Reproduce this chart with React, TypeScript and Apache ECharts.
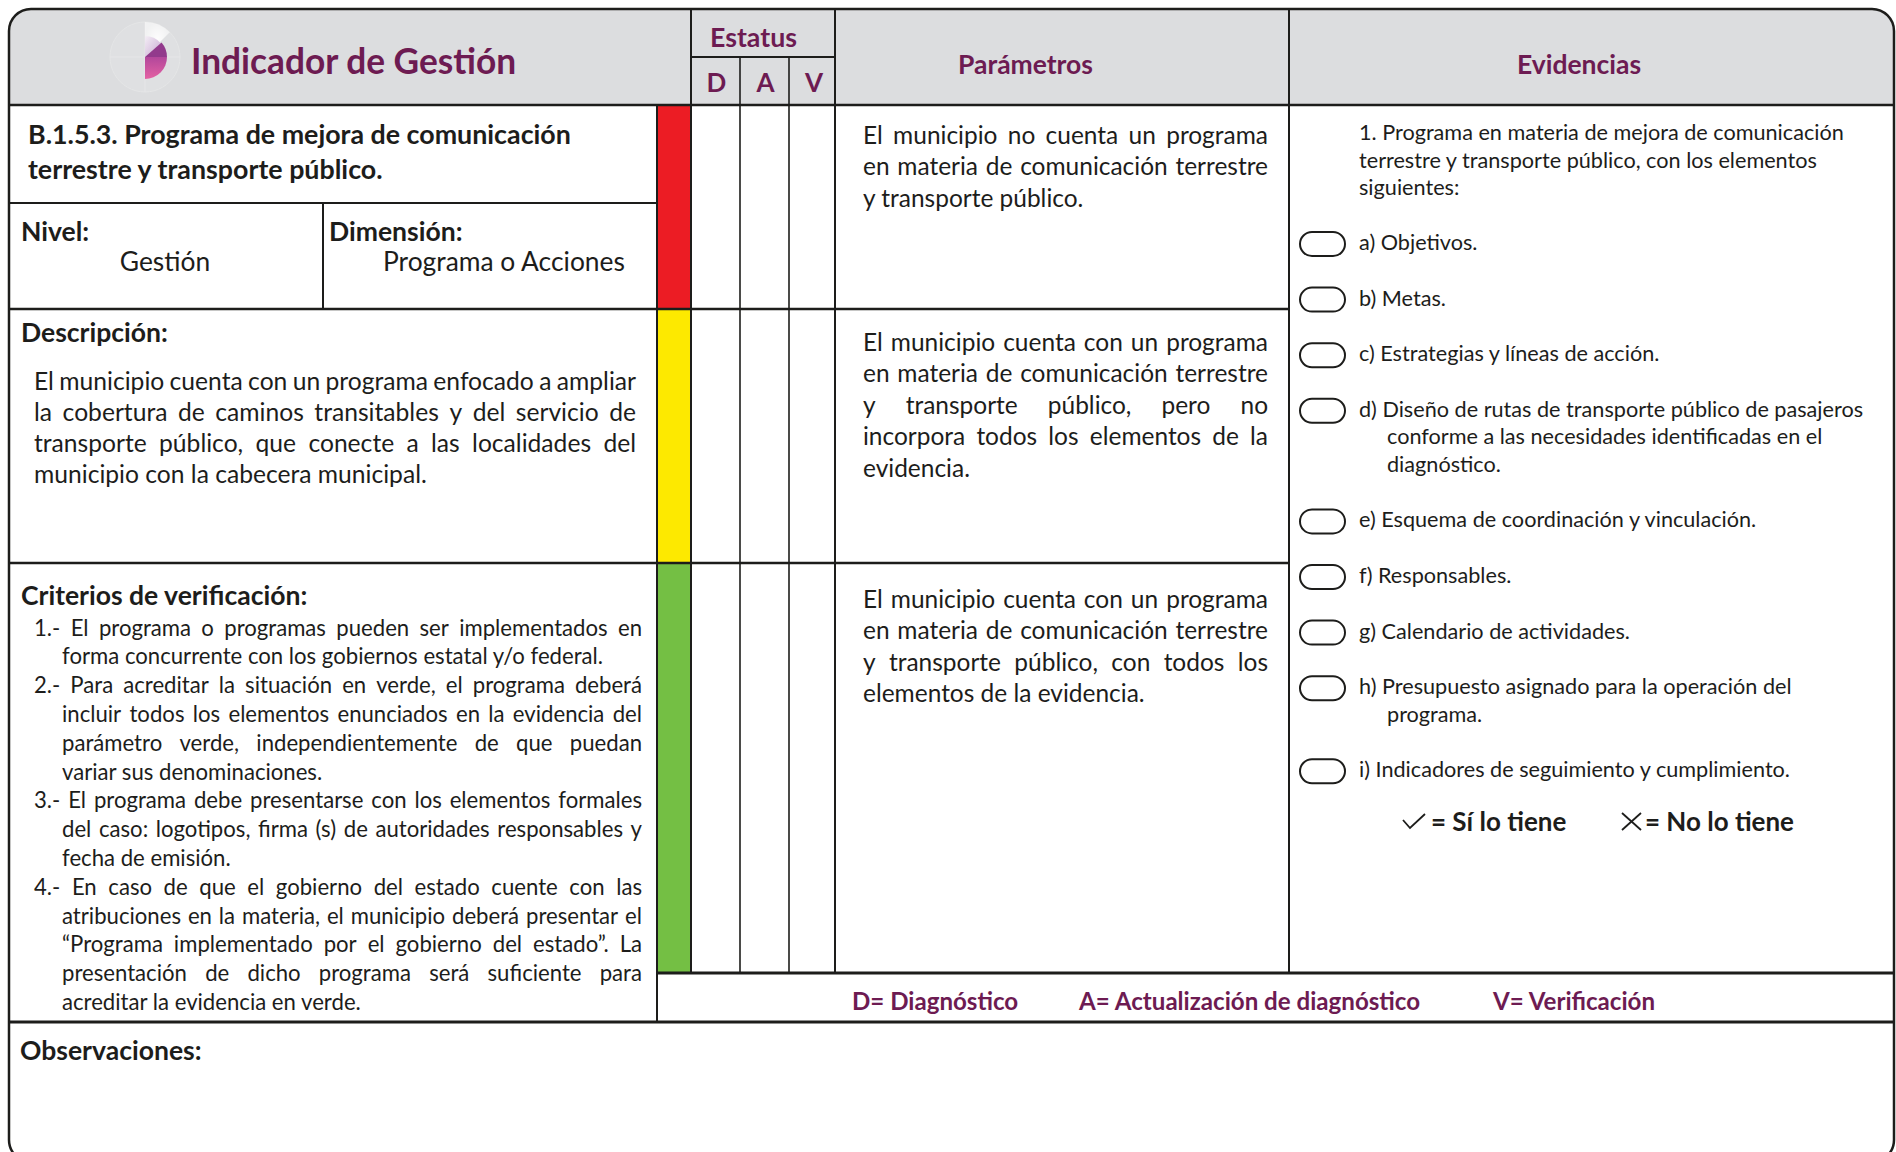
import React, { useEffect, useRef } from "react";
import * as echarts from "echarts";

// ---------- content ----------
const headerTitle = "Indicador de Gestión";
const statusHeader = "Estatus";
const statusCols = ["D", "A", "V"];
const paramHeader = "Parámetros";
const evidHeader = "Evidencias";
const indicatorTitle = [
  "B.1.5.3. Programa de mejora de comunicación",
  "terrestre y transporte público.",
];
const nivelLabel = "Nivel:";
const nivelValue = "Gestión";
const dimLabel = "Dimensión:";
const dimValue = "Programa o Acciones";
const descLabel = "Descripción:";
const descLines = [
  "El municipio cuenta con un programa enfocado a ampliar",
  "la cobertura de caminos transitables y del servicio de",
  "transporte público, que conecte a las localidades del",
  "municipio con la cabecera municipal.",
];
const critLabel = "Criterios de verificación:";
const critLines = [
  "1.- El programa o programas pueden ser implementados en",
  "forma concurrente con los gobiernos estatal y/o federal.",
  "2.- Para acreditar la situación en verde, el programa deberá",
  "incluir todos los elementos enunciados en la evidencia del",
  "parámetro verde, independientemente de que puedan",
  "variar sus denominaciones.",
  "3.- El programa debe presentarse con los elementos formales",
  "del caso: logotipos, firma (s) de autoridades responsables y",
  "fecha de emisión.",
  "4.- En caso de que el gobierno del estado cuente con las",
  "atribuciones en la materia, el municipio deberá presentar el",
  "“Programa implementado por el gobierno del estado”. La",
  "presentación de dicho programa será suficiente para",
  "acreditar la evidencia en verde.",
];
const statusColors = ["#ec1c24", "#fde900", "#74bf44"];
const paramRows = [
  [
    "El municipio no cuenta un programa",
    "en materia de comunicación terrestre",
    "y transporte público.",
  ],
  [
    "El municipio cuenta con un programa",
    "en materia de comunicación terrestre",
    "y transporte público, pero no",
    "incorpora todos los elementos de la",
    "evidencia.",
  ],
  [
    "El municipio cuenta con un programa",
    "en materia de comunicación terrestre",
    "y transporte público, con todos los",
    "elementos de la evidencia.",
  ],
];
const evidIntro = [
  "1. Programa en materia de mejora de comunicación",
  "terrestre y transporte público, con los elementos",
  "siguientes:",
];
const evidItems = [
  ["a) Objetivos."],
  ["b) Metas."],
  ["c) Estrategias y líneas de acción."],
  [
    "d) Diseño de rutas de transporte público de pasajeros",
    "conforme a las necesidades identificadas en el",
    "diagnóstico.",
  ],
  ["e) Esquema de coordinación y vinculación."],
  ["f) Responsables."],
  ["g) Calendario de actividades."],
  ["h) Presupuesto asignado para la operación del", "programa."],
  ["i) Indicadores de seguimiento y cumplimiento."],
];
const keyYes = "= Sí lo tiene";
const keyNo = "= No lo tiene";
const footerLegend = [
  "D= Diagnóstico",
  "A= Actualización de diagnóstico",
  "V= Verificación",
];
const obsLabel = "Observaciones:";

// ---------- layout ----------
const FONT = "Lato";
const PURPLE = "#6d1b52";
const INK = "#1d1d1b";
const GRAY = "#dcdddf";

const L = 9, R = 1894, TOP = 9, BOT = 1162;
const HB = 105; // header bottom
const ESTATUS_B = 57;
const XBAR = 657, XD = 691, XA = 740, XV = 789, XP = 835, XE = 1289;
const Y_TITLE_B = 203, Y_ROW1 = 309, Y_ROW2 = 563, Y_ROW3 = 973, Y_OBS = 1022;
const X_NIVEL_DIV = 323;

let ctx: CanvasRenderingContext2D | null = null;
function measure(text: string, size: number, weight: string) {
  if (!ctx) ctx = document.createElement("canvas").getContext("2d");
  ctx!.font = `${weight} ${size}px ${FONT}`;
  return ctx!.measureText(text).width;
}
function fit(text: string, width: number, weight = "normal") {
  return (100 * width) / measure(text, 100, weight);
}

function T(text: string, x: number, y: number, size: number, weight = "normal", fill = INK, align = "left") {
  return {
    type: "text",
    x,
    y,
    silent: true,
    style: {
      text,
      fill,
      fontSize: size,
      fontFamily: FONT,
      fontWeight: weight,
      align,
      verticalAlign: "middle",
      textAlign: align,
      textVerticalAlign: "middle",
    },
  };
}

function lineEls(text: string, x0: number, x1: number, y: number, size: number, justify: boolean, weight = "normal") {
  if (!justify) return [T(text, x0, y, size, weight)];
  const words = text.split(" ");
  const ws = words.map((w) => measure(w, size, weight));
  const total = ws.reduce((a, b) => a + b, 0);
  const gap = (x1 - x0 - total) / (words.length - 1);
  let x = x0;
  return words.map((w, i) => {
    const el = T(w, x, y, size, weight);
    x += ws[i] + gap;
    return el;
  });
}

function seg(x1: number, y1: number, x2: number, y2: number, w = 2, stroke = INK) {
  return {
    type: "line",
    silent: true,
    shape: { x1, y1, x2, y2 },
    style: { stroke, lineWidth: w },
  };
}

function buildElements() {
  const els: any[] = [];

  // header background
  els.push({
    type: "rect",
    silent: true,
    shape: { x: L, y: TOP, width: R - L, height: HB - TOP, r: [22, 22, 0, 0] },
    style: { fill: GRAY },
  });

  // status colour bars
  const bands = [HB, Y_ROW1, Y_ROW2, Y_ROW3];
  statusColors.forEach((c, i) => {
    els.push({
      type: "rect",
      silent: true,
      shape: { x: XBAR, y: bands[i], width: XD - XBAR, height: bands[i + 1] - bands[i] },
      style: { fill: c },
    });
  });

  // grid lines
  els.push(seg(L, HB, R, HB, 2.5));
  els.push(seg(XD, TOP, XD, Y_ROW3, 2));
  els.push(seg(XD, ESTATUS_B, XP, ESTATUS_B, 2));
  els.push(seg(XA, ESTATUS_B, XA, Y_ROW3, 1.6));
  els.push(seg(XV, ESTATUS_B, XV, Y_ROW3, 1.6));
  els.push(seg(XP, TOP, XP, Y_ROW3, 2));
  els.push(seg(XE, TOP, XE, Y_ROW3, 2));
  els.push(seg(XBAR, HB, XBAR, Y_OBS, 2));
  els.push(seg(L, Y_TITLE_B, XBAR, Y_TITLE_B, 2));
  els.push(seg(X_NIVEL_DIV, Y_TITLE_B, X_NIVEL_DIV, Y_ROW1, 2));
  els.push(seg(L, Y_ROW1, XE, Y_ROW1, 2.5));
  els.push(seg(L, Y_ROW2, XE, Y_ROW2, 2.5));
  els.push(seg(XBAR, Y_ROW3, R, Y_ROW3, 3));
  els.push(seg(L, Y_OBS, R, Y_OBS, 3));

  // outer border
  els.push({
    type: "rect",
    silent: true,
    shape: { x: L, y: TOP, width: R - L, height: BOT - TOP, r: 22 },
    style: { fill: "none", stroke: INK, lineWidth: 2.5 },
  });

  // logo
  const cx = 145, cy = 57;
  els.push({ type: "circle", silent: true, shape: { cx, cy, r: 35 }, style: { fill: "#dfe0e2", stroke: "#e5e6e7", lineWidth: 1 } });
  els.push(seg(cx - 35, cy, cx + 35, cy, 1, "#e6e6e8"));
  els.push(seg(cx, cy - 35, cx, cy + 35, 1, "#e6e6e8"));
  els.push({
    type: "sector",
    silent: true,
    shape: { cx, cy, r0: 0, r: 35, startAngle: -Math.PI / 2, endAngle: -Math.PI / 4 },
    style: {
      fill: {
        type: "radial", x: 0.5, y: 0.5, r: 0.5,
        colorStops: [{ offset: 0, color: "rgba(255,255,255,0.95)" }, { offset: 1, color: "rgba(255,255,255,0.55)" }],
      },
    },
  });
  els.push({
    type: "sector",
    silent: true,
    shape: { cx, cy, r0: 0, r: 21, startAngle: -Math.PI / 2, endAngle: -0.72 },
    style: {
      fill: {
        type: "linear", x: 0, y: 0, x2: 1, y2: 1,
        colorStops: [{ offset: 0, color: "#f3eef5" }, { offset: 1, color: "#c9a9d3" }],
      },
    },
  });
  els.push({ type: "sector", silent: true, shape: { cx, cy, r0: 0, r: 22, startAngle: -0.72, endAngle: 0 }, style: { fill: "#923a8c" } });
  els.push({
    type: "sector",
    silent: true,
    shape: { cx, cy, r0: 0, r: 22, startAngle: 0, endAngle: Math.PI / 2 },
    style: {
      fill: {
        type: "linear", x: 0, y: 0, x2: 0, y2: 1,
        colorStops: [{ offset: 0, color: "#b2479b" }, { offset: 1, color: "#e461a3" }],
      },
    },
  });

  // header texts
  els.push(T(headerTitle, 191, 60, fit(headerTitle, 326, "bold"), "bold", PURPLE));
  els.push(T(statusHeader, 710, 37, fit(statusHeader, 87, "bold"), "bold", PURPLE));
  const dav = [(XD + XA) / 2 + 1, (XA + XV) / 2 + 1, (XV + XP) / 2 + 2];
  statusCols.forEach((s, i) => els.push(T(s, dav[i], 82, 26, "bold", PURPLE, "center")));
  const hSize = fit(paramHeader, 135, "bold");
  els.push(T(paramHeader, 958, 64, hSize, "bold", PURPLE));
  els.push(T(evidHeader, 1579, 64, hSize, "bold", PURPLE, "center"));

  // indicator title
  const tSize = fit(indicatorTitle[0], 543, "bold");
  indicatorTitle.forEach((t, i) => els.push(T(t, 28, 134 + i * 35, tSize, "bold")));

  // nivel / dimension
  const lblSize = fit(critLabel, 287, "bold");
  const valSize = fit(dimValue, 243);
  els.push(T(nivelLabel, 21, 231, lblSize, "bold"));
  els.push(T(nivelValue, 165, 261, valSize, "normal", INK, "center"));
  els.push(T(dimLabel, 329, 231, lblSize, "bold"));
  els.push(T(dimValue, 383, 261, valSize));

  // description
  els.push(T(descLabel, 21, 332, lblSize, "bold"));
  const dSize = fit(descLines[descLines.length - 1], 393);
  descLines.forEach((ln, i) => {
    els.push(...lineEls(ln, 34, 636, 380 + i * 31, dSize, i < descLines.length - 1));
  });

  // criterios
  els.push(T(critLabel, 21, 595, lblSize, "bold"));
  const cSize = fit(critLines[critLines.length - 1], 300);
  const isStart = (s: string) => /^\d\.-/.test(s);
  critLines.forEach((ln, i) => {
    const next = critLines[i + 1];
    const last = !next || isStart(next);
    const x0 = isStart(ln) ? 34 : 62;
    els.push(...lineEls(ln, x0, 642, 627 + i * 28.8, cSize, !last));
  });

  // parametros
  const pSize = fit(paramRows[0][2], 221);
  const pStarts = [134, 341, 598];
  paramRows.forEach((rows, r) => {
    rows.forEach((ln, i) => {
      els.push(...lineEls(ln, 863, 1268, pStarts[r] + i * 31.5, pSize, i < rows.length - 1));
    });
  });

  // evidencias
  const eSize = fit(evidIntro[0], 485);
  evidIntro.forEach((ln, i) => els.push(T(ln, 1359, 132 + i * 27.5, eSize)));
  let y = 242;
  evidItems.forEach((item) => {
    els.push({
      type: "rect",
      silent: true,
      shape: { x: 1300, y: y - 10, width: 45, height: 24, r: 12 },
      style: { fill: "#ffffff", stroke: INK, lineWidth: 2 },
    });
    item.forEach((ln, i) => els.push(T(ln, i === 0 ? 1359 : 1387, y + i * 27.5, eSize)));
    y += (item.length - 1) * 27.5 + 55.6;
  });

  // key
  const kSize = fit(keyNo, 149, "bold");
  els.push({
    type: "polyline",
    silent: true,
    shape: { points: [[1403, 820], [1410, 828], [1425, 814]] },
    style: { stroke: INK, lineWidth: 1.8, fill: "none" },
  });
  els.push(T(keyYes, 1431, 821, kSize, "bold"));
  els.push(seg(1622, 813, 1641, 830, 1.8));
  els.push(seg(1641, 813, 1622, 830, 1.8));
  els.push(T(keyNo, 1645, 821, kSize, "bold"));

  // footer legend
  const fSize = fit(footerLegend[1], 342, "bold");
  const fx = [852, 1079, 1493];
  footerLegend.forEach((t, i) => els.push(T(t, fx[i], 1000, fSize, "bold", PURPLE)));

  // observaciones
  els.push(T(obsLabel, 20, 1050, lblSize, "bold"));

  return els;
}

export default function App() {
  const ref = useRef<HTMLDivElement>(null);
  useEffect(() => {
    if (!ref.current) return;
    const chart = echarts.init(ref.current, undefined, { renderer: "svg" });
    chart.setOption({
      animation: false,
      backgroundColor: "#ffffff",
      graphic: { elements: buildElements() },
    });
    return () => chart.dispose();
  }, []);
  return (
    <div
      ref={ref}
      style={{ position: "fixed", left: 0, top: 0, width: 1896, height: 1152, background: "#fff" }}
    />
  );
}
